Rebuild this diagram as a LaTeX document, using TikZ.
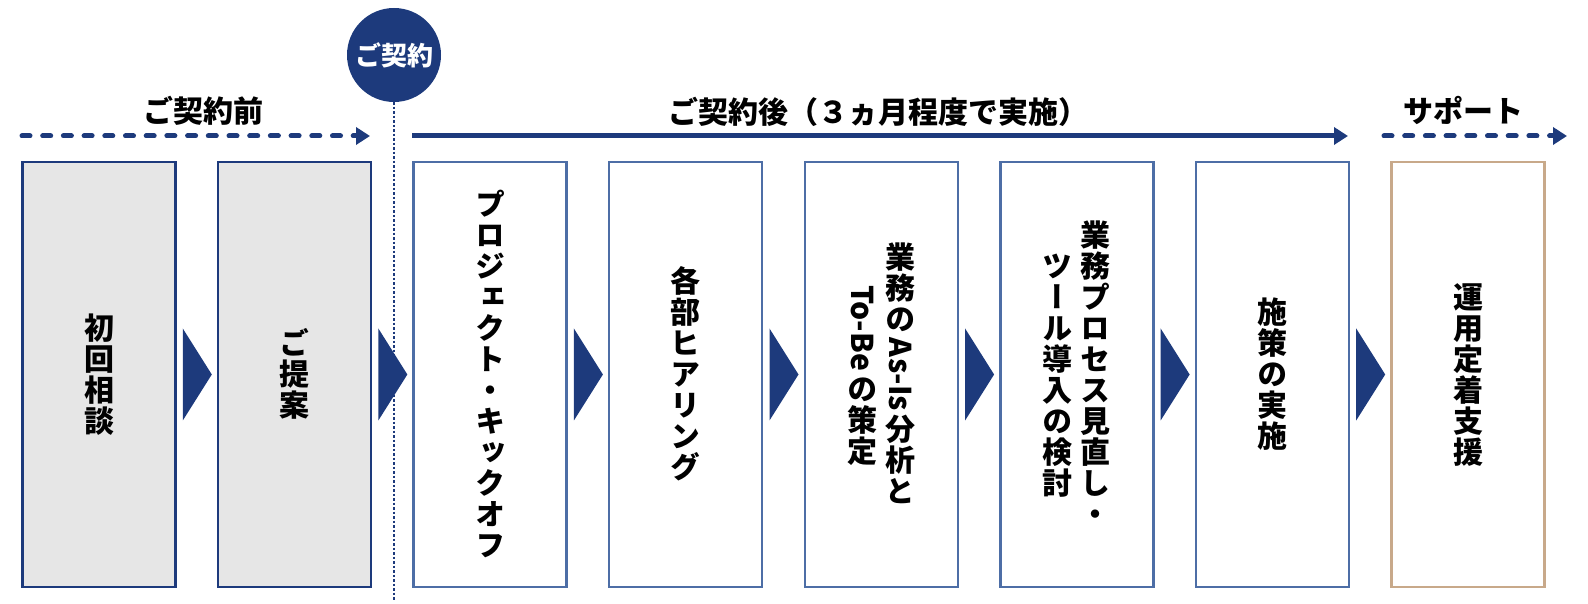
\documentclass[tikz,border=0pt]{standalone}
\usepackage{fontspec}
\usepackage{graphicx}
\usetikzlibrary{arrows.meta,calc}
\newfontfamily\jp{Noto Sans CJK JP}
\newfontfamily\jpv{Noto Sans CJK JP}[RawFeature=+vert]
\definecolor{navy}{HTML}{1D3A7C}
\definecolor{steel}{HTML}{4D6EA6}
\definecolor{grayfill}{HTML}{E6E6E6}
\definecolor{tanline}{HTML}{C8A98A}

\newlength\vpitch \setlength\vpitch{31pt}
\newcommand\VC[1]{\hbox to\vpitch{\hss\vbox to\vpitch{\vskip26.9pt\hbox{\smash{#1}}\vss}\hss}}
\newcommand\VL[1]{\kern3pt\hbox to\vpitch{\hss\rotatebox{-90}{#1}\hss}\kern3pt}
\def\vstr#1{\vstrA#1\relax}
\def\vstrA#1{\ifx\relax#1\else\VC{#1}\expandafter\vstrA\fi}
\newcommand\vcol[1]{\vbox{\offinterlineskip\jpv\bfseries\fontsize{30pt}{31pt}\selectfont#1}}
\newcommand\onecol[1]{$\vcenter{\vcol{#1}}$}
\newcommand\twocol[2]{$\vcenter{\vcol{#1}}\hskip7pt\vcenter{\vcol{#2}}$}

\tikzset{
  stage/.style={draw, line width=2.5pt, minimum width=153pt, minimum height=425pt, inner sep=0pt, text=black},
  prestage/.style={stage, draw=navy, fill=grayfill},
  poststage/.style={stage, draw=steel, fill=white},
  supstage/.style={stage, draw=tanline, fill=white},
  chev/.style={fill=navy},
  lbl/.style={font=\jp\bfseries\fontsize{30pt}{36pt}\selectfont, inner sep=0pt, text=black},
  flowdash/.style={draw=navy, line width=5pt, dash pattern=on 8pt off 12.7pt, line cap=round, -{Triangle[length=14pt,width=17pt]}},
  flowsolid/.style={draw=navy, line width=5pt, -{Triangle[length=14pt,width=17pt]}},
  contract/.style={circle, fill=navy, minimum size=94pt, inner sep=0pt, text=white, font=\jp\bfseries\fontsize{26pt}{30pt}\selectfont},
  divider/.style={draw=navy, line width=2.5pt, dash pattern=on 2.5pt off 2pt}
}

\begin{document}
\begin{tikzpicture}[x=1pt,y=1pt]
\useasboundingbox (0,0) rectangle (1588,604);

% stage boxes
\node[prestage]  (b1) at (99.0,229.5)   {\onecol{\vstr{初回相談}}};
\node[prestage]  (b2) at (294.6,229.5)  {\onecol{\vstr{ご提案}}};
\node[poststage] (b3) at (490.1,229.5)  {\onecol{\vstr{プロジェクト・キックオフ}}};
\node[poststage] (b4) at (685.7,229.5)  {\onecol{\vstr{各部ヒアリング}}};
\node[poststage] (b5) at (881.3,229.5)  {\twocol{\VL{To-Be}\vstr{の策定}}{\vstr{業務の}\VL{As-Is}\vstr{分析と}}};
\node[poststage] (b6) at (1076.9,229.5) {\twocol{\vstr{ツール導入の検討}}{\vstr{業務プロセス見直し・}}};
\node[poststage] (b7) at (1272.4,229.5) {\onecol{\vstr{施策の実施}}};
\node[supstage]  (b8) at (1468.0,229.5) {\onecol{\vstr{運用定着支援}}};

% chevrons between boxes
\foreach \a/\b in {b1/b2,b2/b3,b3/b4,b4/b5,b5/b6,b6/b7,b7/b8}{
  \coordinate (m) at ($(\a.east)!0.5!(\b.west)$);
  \fill[chev] ($(m)+(-14,46)$) -- ($(m)+(15,0)$) -- ($(m)+(-14,-46)$) -- cycle;
}

% contract marker
\node[contract] (c) at (394,549) {ご契約};
\coordinate (cbot) at (394,4);
\draw[divider] (c.south) -- (cbot);

% phase arrows
\coordinate (p1s) at (22,468);  \coordinate (p1e) at (370,468);
\coordinate (p2s) at (412,468); \coordinate (p2e) at (1348,468);
\coordinate (p3s) at (1384,468); \coordinate (p3e) at (1567,468);
\draw[flowdash]  (p1s) -- (p1e);
\draw[flowsolid] (p2s) -- (p2e);
\draw[flowdash]  (p3s) -- (p3e);

% phase labels
\node[lbl] (l1) at (203,493) {ご契約前};
\node[lbl] (l2) at (878,492.5) {ご契約後（３ヵ月程度で実施）};
\node[lbl] (l3) at (1463,494) {サポート};
\end{tikzpicture}
\end{document}
